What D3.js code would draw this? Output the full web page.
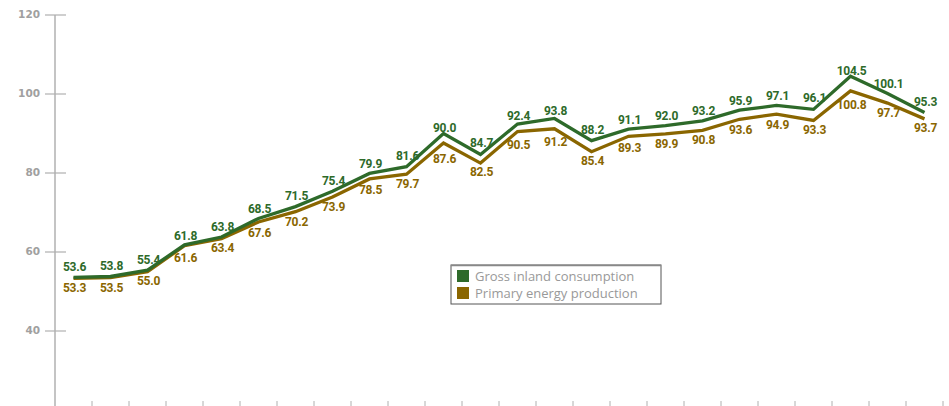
<!DOCTYPE html>
<html>
<head>
<meta charset="utf-8">
<script src="https://cdn.jsdelivr.net/npm/d3@7"></script>
<style>
  html, body { margin: 0; padding: 0; background: #fff; }
  svg { display: block; }
</style>
</head>
<body>
<div id="chart"></div>
<script>
// Series
const SERIES_NAMES = ["Gross inland consumption", "Primary energy production"];
const COLORS       = ["#2e6a2a", "#8a6600"];
const grossInland  = [53.6, 53.8, 55.4, 61.8, 63.8, 68.5, 71.5, 75.4, 79.9, 81.6, 90.0, 84.7, 92.4, 93.8, 88.2, 91.1, 92.0, 93.2, 95.9, 97.1, 96.1, 104.5, 100.1, 95.3];
const primaryProd  = [53.3, 53.5, 55.0, 61.6, 63.4, 67.6, 70.2, 73.9, 78.5, 79.7, 87.6, 82.5, 90.5, 91.2, 85.4, 89.3, 89.9, 90.8, 93.6, 94.9, 93.3, 100.8, 97.7, 93.7];
const Y_TICKS      = [40, 60, 80, 100, 120];
const idx = d3.range(grossInland.length);

const width = 949, height = 406;
const svg = d3.select("#chart").append("svg").attr("width", width).attr("height", height);

const x = d3.scaleBand().domain(idx).range([55, 55 + 37 * idx.length]);
const y = d3.scaleLinear().domain([40, 120]).range([331, 15]);

const labelFont = "Roboto, 'Liberation Sans', sans-serif";

// Eje Y
svg.append("line").attr("x1", 55).attr("x2", 55).attr("y1", y(120)).attr("y2", height)
  .attr("stroke", "#b0b0b0").attr("stroke-width", 1.5);

const yt = svg.append("g").selectAll("g").data(Y_TICKS).join("g")
  .attr("transform", d => `translate(0,${y(d)})`);
yt.append("line").attr("x1", 45).attr("x2", 66).attr("stroke", "#b0b0b0").attr("stroke-width", 1.2);
yt.append("text").attr("x", 40).attr("dy", "0.3em").attr("text-anchor", "end")
  .attr("fill", "#a0a0a0").attr("font-family", "'DejaVu Sans', sans-serif")
  .attr("font-weight", 700).attr("font-size", 10.5).text(d => d);

// Ticks abajo
svg.append("g").selectAll("line").data(d3.range(1, idx.length + 1)).join("line")
  .attr("x1", d => 55 + 37 * d).attr("x2", d => 55 + 37 * d)
  .attr("y1", 401).attr("y2", height)
  .attr("stroke", "#b0b0b0").attr("stroke-width", 1);

const cx = i => x(i) + x.bandwidth() / 2;
const line = vals => d3.line().x((d, i) => cx(i)).y(d => y(d))(vals);

// Lineas (primero la de abajo)
[primaryProd, grossInland].forEach((vals, k) => {
  svg.append("path").attr("d", line(vals)).attr("fill", "none")
    .attr("stroke", COLORS[1 - k]).attr("stroke-width", 3.3)
    .attr("stroke-linejoin", "miter");
});

// Curvatura local (px): >0 en picos, <0 en valles
function bend(vals, i) {
  const nb = [vals[i - 1], vals[i + 1]].filter(v => v != null);
  return d3.mean(nb, v => y(v) - y(vals[i]));
}
const upOffset   = (vals, i) => { const d = bend(vals, i); return d > 0 ? -6 + Math.min(0.18 * d, 5) : -6 + Math.max(0.05 * d, -1.5); };
const downOffset = (vals, i) => { const d = bend(vals, i); return d > 0 ? 14 + Math.min(0.22 * d, 7) : 14 + Math.max(0.05 * d, -1.5); };

// Etiquetas
svg.append("g").selectAll("text").data(grossInland).join("text")
  .attr("x", (d, i) => cx(i) + 1).attr("y", (d, i) => y(d) + upOffset(grossInland, i))
  .attr("text-anchor", "middle").attr("fill", COLORS[0])
  .attr("font-family", labelFont).attr("font-weight", 700).attr("font-size", 12)
  .attr("letter-spacing", -0.3)
  .text(d => d.toFixed(1));

svg.append("g").selectAll("text").data(primaryProd).join("text")
  .attr("x", (d, i) => cx(i) + 1).attr("y", (d, i) => y(d) + downOffset(primaryProd, i))
  .attr("text-anchor", "middle").attr("fill", COLORS[1])
  .attr("font-family", labelFont).attr("font-weight", 700).attr("font-size", 12)
  .attr("letter-spacing", -0.3)
  .text(d => d.toFixed(1));

// Leyenda
const lg = svg.append("g").attr("transform", "translate(451,265)");
lg.append("rect").attr("width", 210).attr("height", 39).attr("fill", "#fff")
  .attr("stroke", "#555").attr("stroke-width", 1);
lg.append("line").attr("x1", 0).attr("x2", 210).attr("y1", 0.5).attr("y2", 0.5)
  .attr("stroke", "#888").attr("stroke-width", 1.5);
const li = lg.selectAll("g.item").data(SERIES_NAMES).join("g").attr("class", "item")
  .attr("transform", (d, i) => `translate(6,${5 + i * 17})`);
li.append("rect").attr("width", 12).attr("height", 12).attr("fill", (d, i) => COLORS[i]);
li.append("text").attr("x", 18).attr("y", 10.5).attr("fill", "#999")
  .attr("font-family", "'Open Sans', sans-serif").attr("font-size", 13).text(d => d);
</script>
</body>
</html>
